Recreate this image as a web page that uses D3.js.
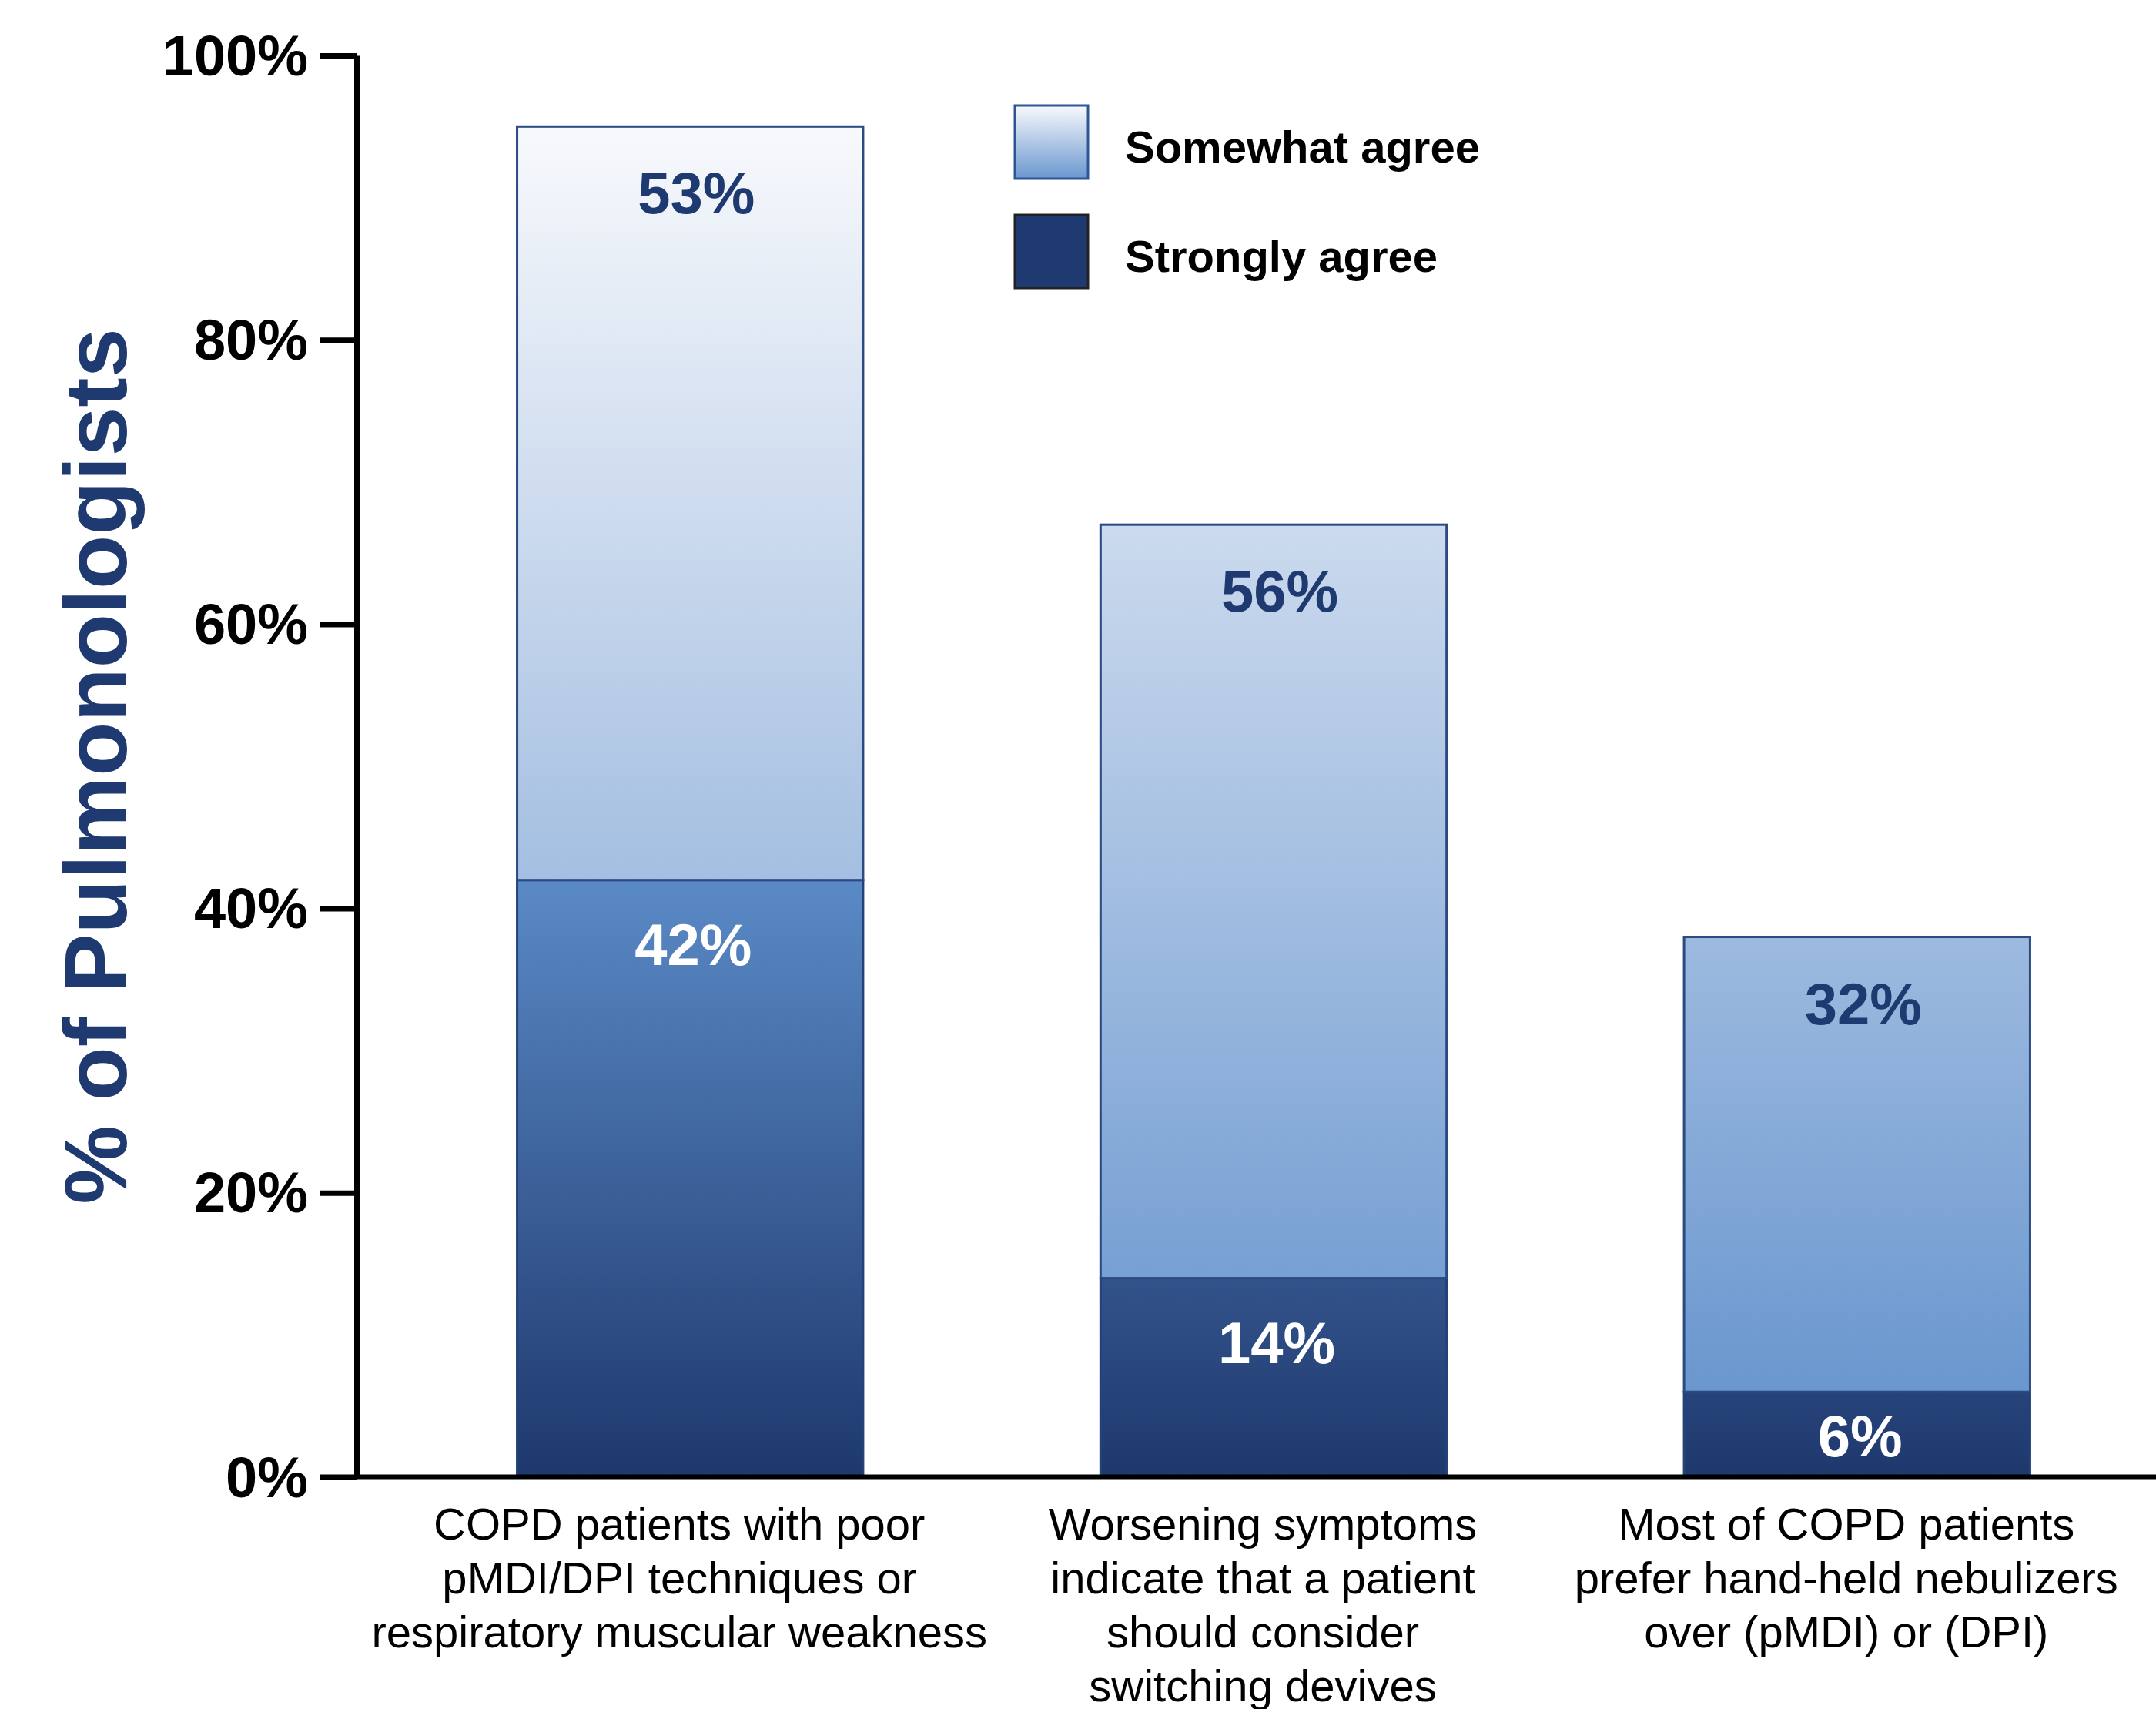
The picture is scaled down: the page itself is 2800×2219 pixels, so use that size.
<!DOCTYPE html>
<html>
<head>
<meta charset="utf-8">
<script src="https://cdn.jsdelivr.net/npm/d3@7"></script>
<style>
  html, body { margin: 0; padding: 0; background: #ffffff; }
  svg { display: block; }
  text { font-family: "Liberation Sans", Arial, Helvetica, sans-serif; }
</style>
</head>
<body>
<svg id="chart" width="2800" height="2219"></svg>
<script>
// ---------- data ----------
const categories = ["c1", "c2", "c3"];
const categoryLines = [
  ["COPD patients with poor", "pMDI/DPI techniques or", "respiratory muscular weakness"],
  ["Worsening symptoms", "indicate that a patient", "should consider", "switching devives"],
  ["Most of COPD patients", "prefer hand-held nebulizers", "over (pMDI) or (DPI)"]
];
const stronglyAgree = [42, 14, 6];          // bar heights as drawn
const somewhatAgree = [53, 53, 32];         // bar heights as drawn
const stronglyLabels = ["42%", "14%", "6%"];
const somewhatLabels = ["53%", "56%", "32%"];
const yTicks = [0, 20, 40, 60, 80, 100];
const legendItems = ["Somewhat agree", "Strongly agree"];
const yTitle = "% of Pulmonologists";

// ---------- layout ----------
const svg = d3.select("#chart");
const W = 2800;
const axisX = 463;
const y = d3.scaleLinear().domain([0, 100]).range([1918, 72]);
const x = d3.scaleBand().domain(categories).range([520, 2788]).paddingInner(0.407).paddingOuter(0.2);

const dark = "#1f3a70";

// gradients
const defs = svg.append("defs");
const gSome = defs.append("linearGradient").attr("id", "gSome")
  .attr("gradientUnits", "userSpaceOnUse").attr("x1", 0).attr("x2", 0)
  .attr("y1", y(95)).attr("y2", y(6));
gSome.append("stop").attr("offset", 0).attr("stop-color", "#f8f9fc");
gSome.append("stop").attr("offset", 1).attr("stop-color", "#6a97cf");

const gStrong = defs.append("linearGradient").attr("id", "gStrong")
  .attr("gradientUnits", "userSpaceOnUse").attr("x1", 0).attr("x2", 0)
  .attr("y1", y(42)).attr("y2", y(0));
gStrong.append("stop").attr("offset", 0).attr("stop-color", "#5a8ac6");
gStrong.append("stop").attr("offset", 1).attr("stop-color", "#1e386d");

const gLeg = defs.append("linearGradient").attr("id", "gLeg")
  .attr("x1", 0).attr("x2", 0).attr("y1", 0).attr("y2", 1);
gLeg.append("stop").attr("offset", 0).attr("stop-color", "#f8f9fc");
gLeg.append("stop").attr("offset", 1).attr("stop-color", "#6a97cf");

// ---------- bars ----------
const rows = categories.map((c, i) => ({
  c, s: stronglyAgree[i], w: somewhatAgree[i],
  sl: stronglyLabels[i], wl: somewhatLabels[i]
}));

const bars = svg.append("g");
bars.selectAll("rect.strong").data(rows).join("rect")
  .attr("class", "strong")
  .attr("x", d => x(d.c)).attr("width", x.bandwidth())
  .attr("y", d => y(d.s)).attr("height", d => y(0) - y(d.s))
  .attr("fill", "url(#gStrong)").attr("stroke", "#24427a").attr("stroke-width", 3);

bars.selectAll("rect.some").data(rows).join("rect")
  .attr("class", "some")
  .attr("x", d => x(d.c)).attr("width", x.bandwidth())
  .attr("y", d => y(d.s + d.w)).attr("height", d => y(d.s) - y(d.s + d.w))
  .attr("fill", "url(#gSome)").attr("stroke", "#2b4a82").attr("stroke-width", 3);

// value labels
const labG = svg.append("g").attr("font-weight", "bold").attr("font-size", 76).attr("text-anchor", "middle");
labG.selectAll("text.wl").data(rows).join("text")
  .attr("class", "wl")
  .attr("x", d => x(d.c) + x.bandwidth() / 2 + 8)
  .attr("y", d => y(d.s + d.w) + 113)
  .attr("fill", dark)
  .text(d => d.wl);
labG.selectAll("text.sl").data(rows).join("text")
  .attr("class", "sl")
  .attr("x", d => x(d.c) + x.bandwidth() / 2 + 4)
  .attr("y", d => Math.min(y(d.s) + 110, (y(d.s) + y(0)) / 2 + 28))
  .attr("fill", "#ffffff")
  .text(d => d.sl);

// ---------- axes ----------
const yAxis = d3.axisLeft(y).tickValues(yTicks).tickSize(48).tickSizeOuter(0).tickPadding(15)
  .tickFormat(d => d + "%");
const gy = svg.append("g").attr("transform", `translate(${axisX},0)`).call(yAxis);
gy.select(".domain").attr("stroke", "#000").attr("stroke-width", 7);
gy.selectAll(".tick line").attr("stroke", "#000").attr("stroke-width", 7);
gy.selectAll(".tick text").attr("fill", "#000").attr("font-size", 74).attr("font-weight", "bold")
  .attr("font-family", '"Liberation Sans", Arial, sans-serif').attr("dy", "0.34em");

// baseline
svg.append("line").attr("x1", axisX - 48).attr("x2", W)
  .attr("y1", y(0)).attr("y2", y(0)).attr("stroke", "#000").attr("stroke-width", 7);

// category labels
const xAxis = d3.axisBottom(x).tickSize(0).tickFormat(() => "");
const gx = svg.append("g").attr("transform", `translate(0,${y(0)})`).call(xAxis);
gx.select(".domain").remove();
gx.selectAll(".tick").each(function (d, i) {
  const t = d3.select(this).append("text")
    .attr("text-anchor", "middle").attr("fill", "#000")
    .attr("font-size", 58)
    .attr("font-family", '"Liberation Sans", Arial, sans-serif')
    .attr("x", -14);
  categoryLines[i].forEach((line, k) => {
    t.append("tspan").attr("x", -14).attr("y", 81 + k * 70).text(line);
  });
});

// y title
svg.append("text")
  .attr("transform", `translate(164,${(y(0) + y(100)) / 2}) rotate(-90)`)
  .attr("text-anchor", "middle").attr("font-size", 115).attr("font-weight", "bold")
  .attr("fill", dark).text(yTitle);

// ---------- legend ----------
const leg = svg.append("g").attr("transform", "translate(1318,137)");
const legFill = ["url(#gLeg)", dark];
const legStroke = ["#2f5597", "#222222"];
legendItems.forEach((name, i) => {
  const g = leg.append("g").attr("transform", `translate(0,${i * 142})`);
  g.append("rect").attr("width", 95).attr("height", 95)
    .attr("fill", legFill[i]).attr("stroke", legStroke[i]).attr("stroke-width", 3);
  g.append("text").attr("x", 143).attr("y", 54).attr("dy", "0.35em")
    .attr("font-size", 58).attr("font-weight", "bold").attr("fill", "#000").text(name);
});
</script>
</body>
</html>
